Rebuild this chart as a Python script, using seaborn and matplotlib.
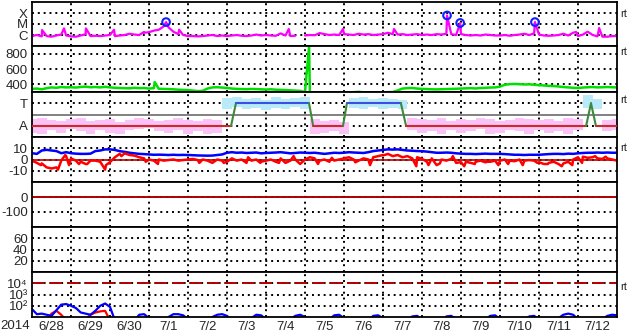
import numpy as np
import pandas as pd
import matplotlib
matplotlib.use("Agg")
import matplotlib.pyplot as plt
from matplotlib.ticker import NullLocator
import seaborn as sns

# ---------------- data (hours since 2014-06-28 00:00) ----------------
day_labels = ['6/28', '6/29', '6/30', '7/1', '7/2', '7/3', '7/4', '7/5',
              '7/6', '7/7', '7/8', '7/9', '7/10', '7/11', '7/12']
year_label = '2014'
nan = np.nan

# X-ray flux, 3-hourly, in units of C1 (1e-6 W/m2)
xray_c = [0.8, 1.0, 0.75, 0.8, 0.7, 0.9, 1.1, 0.9,
          0.75, 0.7, 0.9, 1.2, 0.8, 0.85, 0.8, 0.9,
          1.0, 0.8, 0.9, 1.0, 1.3, 1.1, 1.0, 1.6,
          1.8, 2.5, 3.0, 6.0, 5.0, 2.0, 1.2, 1.0,
          0.8, 0.8, 0.75, 0.8, 0.9, 1.0, 0.8, 0.9,
          0.8, 0.9, 1.0, 0.85, 0.8, 0.9, 1.1, 0.9,
          1.0, 0.9, 0.85, 1.4, 0.9, 0.8, 0.85, nan,
          0.9, 1.0, 0.95, 1.5, 1.2, 1.0, 1.1, 1.0,
          1.2, 1.1, 1.0, 1.3, 1.1, 1.2, 1.0, 1.1,
          1.2, 1.6, 1.2, 1.1, 1.2, 1.0, 1.1, 1.2,
          1.0, 1.1, 1.0, 1.2, 1.1, 1.3, 1.2, 1.0,
          1.2, 1.0, 0.9, 1.0, 0.9, 1.1, 1.0, 0.9,
          0.9, 1.0, 0.85, 1.0, 1.1, 1.3, 1.0, 1.4,
          1.1, 0.9, 0.85, 0.9, 1.0, 1.3, 0.9, 1.6,
          0.8, 1.1, 2.0, 1.0, 0.75, 0.7, 0.7, 0.8,
          0.8]
xray_spike_hours = [6.2, 19.7, 33.2, 50.5, 68.9, 82.5, 90.5, 158.0, 191.4,
                    222.8, 255.4, 263.5, 309.5, 334.8, 349.0]
xray_spike_c = [2.8, 4.0, 4.0, 3.0, 1.9, 15.0, 3.0, 3.5, 3.5,
                3.5, 60.0, 12.5, 15.0, 1.9, 4.3]
flare_hours = [82.5, 255.4, 263.5, 309.5]
flare_c = [15.0, 60.0, 12.5, 15.0]

# solar wind speed km/s, 3-hourly
speed = [340, 345, 335, 350, 360, 355, 365, 360,
         362, 358, 366, 370, 362, 365, 360, 368,
         360, 355, 352, 350, 348, 355, 350, 352,
         345, 350, 342, 340, 338, 335, 330, 328,
         325, 318, 312, 315, 345, 360, 362, 358,
         352, 345, 340, 338, 336, 340, 338, 335,
         332, 335, 330, 328, 325, 322, 318, 315,
         300, 298, 296, 294, 295, 296, 294, 292,
         292, 295, 298, 302, 296, 294, 293, 295,
         296, 298, 300, 320, 345, 350, 352, 345,
         340, 338, 335, 334, 336, 338, 340, 342,
         345, 348, 350, 346, 352, 355, 358, 360,
         370, 395, 402, 405, 402, 398, 400, 395,
         390, 385, 380, 378, 372, 365, 360, 355,
         352, 358, 362, 365, 360, 362, 365, 362,
         360]
speed_spike_hours = [75.5, 170.5]
speed_spike = [430, 890]

# IMF |B| (Bt) and Bz, nT, 3-hourly
bt = [5.6, 5.0, 8.0, 8.6, 8.0, 7.5, 5.6, 6.5,
      5.6, 5.2, 5.0, 5.0, 5.2, 7.5, 8.0, 9.0,
      9.0, 8.5, 7.4, 6.8, 6.0, 5.5, 5.0, 4.8,
      4.5, 4.2, 4.3, 4.2, 4.0, 4.2, 4.0, 4.1,
      4.0, 3.8, 3.6, 3.5, 3.4, 3.5, 4.0, 4.5,
      6.0, 6.5, 6.0, 6.2, 5.8, 6.0, 6.2, 5.5,
      5.8, 6.0, 6.2, 6.5, 6.0, 5.5, 5.8, 6.2,
      6.0, 5.8, 6.0, 5.5, 5.0, 5.5, 6.0, 5.8,
      6.0, 6.5, 6.2, 6.0, 5.8, 6.5, 7.5, 8.0,
      8.5, 9.0, 8.8, 9.0, 8.5, 8.0, 7.8, 7.5,
      7.4, 7.0, 6.5, 6.0, 6.0, 6.2, 6.0, 5.5,
      5.2, 5.0, 5.0, 4.8, 5.0, 5.2, 5.0, 5.0,
      5.0, 4.8, 4.5, 4.2, 4.2, 4.0, 4.2, 4.2,
      4.2, 4.5, 4.8, 5.0, 5.0, 4.8, 5.2, 5.0,
      5.5, 5.8, 6.0, 6.0, 6.2, 6.0, 6.2, 6.0,
      6.0]
bz = [-1, -3, -3.5, -7, -8, -7, -1, 3,
      1, -1, -2, -4, -1, -1, -2, -9,
      -2.4, 2, 5, 5.5, 4, 3.5, 2, 1,
      0, -1, 0, -1, -0.5, 0, -1, -0.5,
      0, 0.5, -0.5, 0, -1, -3, 0, -1,
      -2, 1, -1, 0, -3, -1, 0, -2,
      -1, 0, -2, 1, -3, -1, 0, -4,
      0, 2, 1, -1, 0, -2, -1, 0,
      1, 2, 0, -1, 1, 0, 2, 3,
      4, 5, 3, 4, 2, 3, 1, 2,
      0.6, -2, 1, -5, 0, -1, 0.5, -3,
      -2.4, -2, -3, -2, -1, -2.5, -2, -1,
      -1, 0, -1, -1.5, 0, -1, -0.5, -1,
      -2.4, -4, -3, -2, -4, -3.5, -2, 0,
      2, 2.5, 1.5, 2, 1, 0.5, 1, 0,
      -1]
# short excursions of Bz between the 3-hourly samples
bz_spike_hours = [5.5, 16.0, 20.5, 22.8, 28.9, 34.0, 45.5, 55.0, 70.0, 77.5,
                  103.0, 118.0, 133.0, 140.5, 152.0, 161.0, 176.0, 184.5,
                  199.0, 208.0, 217.0, 236.5, 244.0, 251.0, 259.0, 266.0,
                  272.5, 280.0, 287.0, 293.0, 302.0, 311.0, 317.5, 326.0,
                  332.5, 338.5, 346.5, 353.0]
bz_spike = [-5, -9, 4, -5, -4, -4, -5, 3, -2, -4,
            -3, -3, 2, -3, -3, 3, -4, 1.5,
            -2.5, -5, 4, -6, -5, -3.5, 3, -6,
            -4, -2, -5, -4, -5, -3, -4, -6,
            -5, -3, 3, 2.5]

# IMF sector polarity (T = +1 toward, A = -1 away)
sector_hours = [0, 122.5, 125.5, 170.5, 173.0, 191.4, 193.8, 227.0, 230.2,
                341.0, 344.0, 347.0, 360]
sector_pol = [-1, -1, 1, 1, -1, -1, 1, 1, -1, -1, 1, -1, -1]

# IMF phi spread, 6-hourly (top/bottom of the point cloud, T=+1, A=-1)
phi_top = [-0.4, -0.3, -0.5, -0.6, -0.4, -0.3, -0.6, -0.5, -0.4, -0.7,
           -0.5, -0.3, -0.4, -0.6, -0.5, -0.3, -0.5, -0.6, -0.4, -0.5,
           1.5, 1.6, 1.4, 1.5, 1.3, 1.6, 1.4, 1.5, 1.6,
           -0.4, -0.6, -0.5, -0.7,
           1.5, 1.6, 1.4, 1.5, 1.4, 1.3,
           -0.3, -0.4, -0.5, -0.3, -0.6, -0.4, -0.5, -0.3, -0.4, -0.6,
           -0.5, -0.3, -0.4, -0.5, -0.4, -0.6, -0.3, -0.4,
           1.7, 1.4, -0.5, -0.4]
phi_bot = [-1.6, -1.7, -1.4, -1.6, -1.3, -1.5, -1.7, -1.4, -1.6, -1.7,
           -1.4, -1.3, -1.2, -1.5, -1.6, -1.4, -1.7, -1.5, -1.7, -1.6,
           0.5, 0.7, 0.5, 0.6, 0.4, 0.6, 0.5, 0.7, 0.5,
           -1.7, -1.6, -1.5, -1.7,
           0.6, 0.5, 0.7, 0.5, 0.6, 0.5,
           -1.4, -1.6, -1.5, -1.7, -1.4, -1.6, -1.5, -1.3, -1.7, -1.6,
           -1.4, -1.5, -1.7, -1.4, -1.6, -1.5, -1.7, -1.4,
           0.6, 0.5, -1.5, -1.4]

# proton flux, log10 (3-hourly); values below 1 fall under the axis
proton_hi_log = [1.7, 1.25, 1.3, 1.2, 1.1, 1.6, 2.1, 2.15,
                 2.0, 1.8, 1.4, 1.3, 1.2, 1.55, 2.0, 2.2,
                 1.9, 0.7, 0.6, 0.6, 0.6, 0.7, 1.2, 1.25,
                 0.9, 0.6, 0.6, 0.6, 1.0, 1.25, 1.25, 1.15,
                 0.8, 0.6, 0.6, 0.6, 0.7, 1.0, 1.2, 1.25,
                 1.1, 0.7, 0.6, 0.6, 0.6, 0.9, 1.2, 1.15,
                 0.8, 0.6, 0.6, 0.6, 0.6, 0.8, 1.1, 1.2,
                 1.0, 0.6, 0.6, 0.6, 0.6, 0.8, 1.15, 1.2,
                 0.9, 0.6, 0.6, 0.6, 0.6, 0.7, 1.1, 1.15,
                 0.9, 0.6, 0.6, 0.6, 0.6, 0.7, 1.05, 1.1,
                 0.8, 0.6, 0.6, 0.6, 0.6, 1.05, 1.1, 0.8,
                 0.6, 0.6, 0.6, 0.6, 0.6, 0.8, 1.1, 1.15,
                 0.8, 0.6, 0.6, 0.6, 0.6, 0.8, 1.05, 1.1,
                 0.8, 0.6, 0.6, 0.7, 0.9, 1.2, 1.3, 1.2,
                 0.8, 0.6, 0.6, 0.6, 0.6, 0.8, 1.1, 1.2,
                 1.15]
proton_lo_log = [0.6, 0.6, 0.6, 0.7, 1.3, 1.55, 1.2, 0.7,
                 0.6, 0.6, 0.6, 0.8, 1.2, 1.4, 1.5, 1.55,
                 0.7, 0.5]
proton_alert = 1e4
proton_tick_labels = ['10\u00b2', '10\u00b3', '10\u2074']

# ---------------- style ----------------
sns.set_style("white")
plt.rcParams['font.family'] = ['Liberation Sans', 'DejaVu Sans']
plt.rcParams['axes.unicode_minus'] = False

W, H = 633, 334
fig = plt.figure(figsize=(W / 100, H / 100), dpi=100)
fig.patch.set_facecolor('white')
tops = [2, 46, 92, 137, 182, 227, 272]
bots = [46, 92, 137, 182, 227, 272, 317]
L, R = 32, 617
axes = []
for t, b in zip(tops, bots):
    ax = fig.add_axes([L / W, 1 - b / H, (R - L) / W, (b - t) / H])
    axes.append(ax)

DOT = dict(color='black', linestyle=(0, (1, 2)), linewidth=1.4)
FS = 9.5

h3 = np.arange(len(speed)) * 3.0
h6 = np.arange(len(phi_top)) * 6.0

for i, ax in enumerate(axes):
    ax.set_xlim(0, 360)
    ax.set_facecolor('white')
    ax.set_axisbelow(True)
    ax.set_xticks(np.arange(24, 360, 24))
    ax.set_xticklabels([])
    ax.grid(True, which='major', **DOT)
    ax.tick_params(which='both', length=0, labelsize=FS, pad=3)
    for s in ax.spines.values():
        s.set_color('black')
        s.set_linewidth(1.3)
        s.set_visible(True)

# panel 0: X-ray
ax = axes[0]
xh = np.concatenate([h3, xray_spike_hours])
xv = np.concatenate([np.array(xray_c, float), xray_spike_c])
order = np.argsort(xh, kind='stable')
ax.plot(xh[order], xv[order], color='#ff00ff', lw=1.6)
sns.scatterplot(x=flare_hours, y=flare_c, ax=ax, marker='o', s=30,
                facecolor='none', edgecolor='#1020ff', linewidth=1.5,
                legend=False, zorder=5)
ax.set_yscale('log')
ax.set_ylim(0.1, 1000)
ax.set_yticks([1, 10, 100])
ax.set_yticklabels(['C', 'M', 'X'])
ax.yaxis.set_minor_locator(NullLocator())

# panel 1: speed
ax = axes[1]
sh = np.concatenate([h3, speed_spike_hours])
sv = np.concatenate([np.array(speed, float), speed_spike])
df_sp = pd.DataFrame({'h': sh, 'v': sv}).sort_values('h', kind='stable')
sns.lineplot(data=df_sp, x='h', y='v', ax=ax, color='#00e000', lw=1.8,
             estimator=None, sort=False, legend=False)
ax.set_ylim(300, 900)
ax.set_yticks([400, 600, 800])

# panel 2: sector / phi
ax = axes[2]
top = np.array(phi_top)
bot = np.array(phi_bot)
cols = np.where(top > 0, '#b8eafa', '#fac2f6')
ax.bar(h6, top - bot, bottom=bot, width=6, color=cols, linewidth=0,
       zorder=1)
ax.axhline(0, color='#808080', lw=1.4, zorder=2)
for k in range(len(sector_hours) - 1):
    p0, p1 = sector_pol[k], sector_pol[k + 1]
    if p0 == p1:
        c = '#d02828' if p0 < 0 else '#3a50e0'
    else:
        c = '#3c8a3c'
    ax.plot([sector_hours[k], sector_hours[k + 1]], [p0, p1], color=c,
            lw=1.5, zorder=3)
ax.set_ylim(-2, 2)
ax.set_yticks([-1, 1])
ax.set_yticklabels(['A', 'T'])

# panel 3: Bt / Bz
ax = axes[3]
ax.axhline(0, color='#b00000', lw=1.2, zorder=1)
sns.lineplot(x=h3, y=bt, ax=ax, color='#0000ff', lw=1.8, estimator=None,
             legend=False)
zh = np.concatenate([h3, bz_spike_hours])
zv = np.concatenate([np.array(bz, float), bz_spike])
df_bz = pd.DataFrame({'h': zh, 'v': zv}).sort_values('h', kind='stable')
sns.lineplot(data=df_bz, x='h', y='v', ax=ax, color='#ff0000', lw=1.8,
             estimator=None, sort=False, legend=False)
ax.set_ylim(-20, 20)
ax.set_yticks([-10, 0, 10])

# panel 4: Dst
ax = axes[4]
ax.axhline(0, color='#b00000', lw=1.4)
ax.set_ylim(-200, 100)
ax.set_yticks([-100, 0])

# panel 5
ax = axes[5]
ax.set_ylim(0, 80)
ax.set_yticks([20, 40, 60])

# panel 6: protons
ax = axes[6]
ax.axhline(proton_alert, color='#b00000', lw=1.4, linestyle=(0, (6.5, 2.5)))
sns.lineplot(x=h3[:len(proton_lo_log)], y=10 ** np.array(proton_lo_log),
             ax=ax, color='#ff0000', lw=1.6, estimator=None, legend=False)
sns.lineplot(x=h3, y=10 ** np.array(proton_hi_log), ax=ax, color='#0000ff',
             lw=1.6, estimator=None, legend=False)
ax.set_yscale('log')
ax.set_ylim(10, 1e5)
ax.set_yticks([1e2, 1e3, 1e4])
ax.set_yticklabels(proton_tick_labels, fontsize=FS)
ax.yaxis.set_minor_locator(NullLocator())
ax.set_xticks(np.arange(12, 360, 24), minor=True)
ax.set_xticklabels(day_labels, minor=True, fontsize=FS)
ax.tick_params(axis='x', which='minor', length=0, pad=3)

for ax in axes:
    ax.set_xlabel('')
    ax.set_ylabel('')

fig.text(15 / W, 1 - 326 / H, year_label, ha='center', va='center', fontsize=FS)
for yy in [14, 52, 100, 148, 287]:
    fig.text(620 / W, 1 - yy / H, 'rt', ha='left', va='center', fontsize=8)

fig.savefig('out.png', dpi=100, facecolor='white')
